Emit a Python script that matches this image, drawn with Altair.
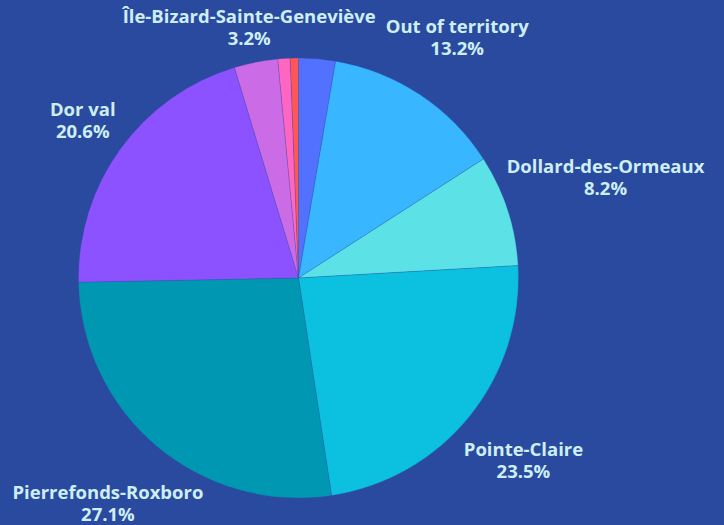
import altair as alt
import pandas as pd

# Slices clockwise from 12 o'clock
names = ["Other", "Out of territory", "Dollard-des-Ormeaux", "Pointe-Claire",
         "Pierrefonds-Roxboro", "Dor val", "Île-Bizard-Sainte-Geneviève",
         "Other 2", "Other 3"]
values = [2.7, 13.2, 8.2, 23.5, 27.1, 20.6, 3.2, 0.9, 0.6]
colors = ["#5271FF", "#38B6FF", "#5CE1E6", "#0CC0DF", "#0097B2",
          "#8C52FF", "#CB6CE6", "#FF66C4", "#FF5757"]

BG = "#2A4A9F"
CX, CY, R = 298.5, 278, 220

df = pd.DataFrame({"name": names, "value": values, "order": list(range(len(names)))})

base = alt.Chart(df).transform_window(
    cum="sum(value)", sort=[alt.SortField("order")], frame=[None, 0]
).transform_joinaggregate(
    total="sum(value)"
).transform_calculate(
    start="2*PI*(datum.cum - datum.value)/datum.total",
    end="2*PI*datum.cum/datum.total",
).transform_calculate(
    mid="(datum.start + datum.end)/2",
    label="datum.name + '\\n' + format(datum.value, '.1f') + '%'",
)

arcs = base.mark_arc(radius=R, stroke=BG, strokeWidth=0.5, strokeOpacity=0.5).encode(
    theta=alt.Theta("start:Q", scale=None),
    theta2="end:Q",
    color=alt.Color("name:N", scale=alt.Scale(domain=names, range=colors), legend=None),
    x=alt.value(CX),
    y=alt.value(CY),
)

labels = base.transform_filter("datum.value >= 3").transform_calculate(
    lr0="226 + abs(sin(datum.mid))*length(datum.name)*5.0 + abs(cos(datum.mid))*21"
).transform_calculate(
    lr="cos(datum.mid) > 0 ? min(datum.lr0, 250/cos(datum.mid)) : min(datum.lr0, 226/max(-cos(datum.mid), 0.01))"
).mark_text(
    font="Open Sans", fontWeight="bold", fontSize=18.5, color="#CDEFF4",
    lineBreak="\n", lineHeight=22, align="center", baseline="middle", dy=-11,
).encode(
    theta=alt.Theta("mid:Q", scale=None),
    radius=alt.Radius("lr:Q", scale=None),
    text="label:N",
    x=alt.value(CX),
    y=alt.value(CY),
)

chart = alt.layer(arcs, labels).properties(
    width=724, height=525, background=BG, padding=0,
    autosize=alt.AutoSizeParams(type="none"),
).configure_view(stroke=None)

chart.save("out.html", embed_options={"renderer": "svg", "actions": False})
